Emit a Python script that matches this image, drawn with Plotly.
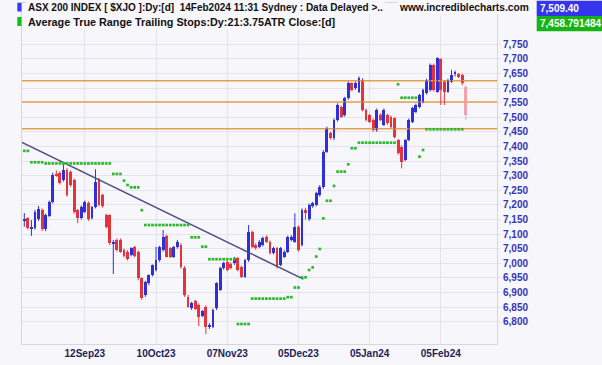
import plotly.graph_objects as go

# ---------------- data ----------------
opens = [7148, 7154, 7116, 7120, 7150, 7183, 7116, 7162, 7211, 7305,
         7310, 7285, 7320, 7314, 7285, 7182, 7154, 7177, 7208, 7154,
         7192, 7288, 7234, 7165, 7165, 7065, 7080, 7080, 7045, 7040,
         7028, 7055, 7040, 6948, 6891, 6931, 6960, 6977, 7011, 7045,
         7094, 7051, 7023, 7057, 7063, 6983, 6886, 6846, 6870, 6857,
         6820, 6851, 6783, 6783, 6846, 6909, 6983, 7005, 6998, 7000,
         7017, 6988, 6954, 7011, 7108, 7063, 7057, 7063, 7091, 7074,
         7034, 7051, 6994, 7023, 7040, 7080, 7074, 7126, 7063, 7183,
         7150, 7195, 7200, 7234, 7262, 7382, 7445, 7428, 7491, 7536,
         7508, 7565, 7616, 7599, 7588, 7628, 7525, 7508, 7491, 7456,
         7508, 7474, 7508, 7502, 7496, 7422, 7399, 7354, 7422, 7485,
         7519, 7536, 7553, 7582, 7593, 7679, 7588, 7698, 7622, 7588,
         7622, 7650, 7647, 7645, 7605]
highs = [7172, 7158, 7148, 7183, 7196, 7188, 7170, 7215, 7310, 7318,
         7315, 7346, 7326, 7318, 7290, 7186, 7198, 7215, 7212, 7196,
         7322, 7292, 7238, 7170, 7168, 7080, 7085, 7085, 7050, 7045,
         7055, 7060, 7044, 6952, 6940, 6962, 6996, 7057, 7060, 7114,
         7098, 7055, 7060, 7080, 7068, 6990, 6892, 6868, 6875, 6862,
         6840, 6856, 6795, 6845, 6935, 6988, 7005, 7010, 7003, 7022,
         7022, 6992, 7015, 7131, 7112, 7068, 7080, 7092, 7096, 7078,
         7056, 7056, 7056, 7045, 7095, 7096, 7171, 7130, 7188, 7190,
         7205, 7210, 7245, 7268, 7388, 7468, 7450, 7496, 7548, 7540,
         7570, 7622, 7620, 7622, 7640, 7634, 7530, 7512, 7496, 7530,
         7514, 7530, 7512, 7506, 7500, 7426, 7404, 7426, 7496, 7536,
         7547, 7580, 7598, 7632, 7684, 7684, 7706, 7702, 7626, 7632,
         7662, 7660, 7652, 7650, 7610]
lows = [7125, 7115, 7094, 7115, 7145, 7110, 7110, 7158, 7205, 7296,
        7270, 7280, 7228, 7262, 7170, 7137, 7150, 7172, 7145, 7150,
        7188, 7195, 7190, 7120, 7062, 6963, 7040, 7036, 7020, 7010,
        7024, 7020, 6942, 6875, 6885, 6925, 6955, 6972, 7005, 7040,
        7020, 7018, 7018, 7050, 6982, 6885, 6848, 6840, 6840, 6785,
        6815, 6758, 6775, 6778, 6840, 6905, 6978, 6972, 6980, 6995,
        6972, 6950, 6950, 7005, 7052, 7046, 7052, 7058, 7070, 7030,
        7030, 6982, 6990, 7018, 7035, 7075, 7070, 7040, 7058, 7150,
        7145, 7190, 7195, 7228, 7255, 7378, 7424, 7422, 7485, 7498,
        7502, 7560, 7588, 7594, 7583, 7520, 7486, 7480, 7450, 7450,
        7486, 7470, 7474, 7463, 7428, 7372, 7325, 7350, 7418, 7480,
        7514, 7531, 7548, 7578, 7588, 7588, 7584, 7542, 7542, 7584,
        7618, 7640, 7634, 7610, 7491]
closes = [7153, 7120, 7125, 7177, 7185, 7116, 7165, 7211, 7302, 7300,
          7276, 7320, 7234, 7268, 7177, 7154, 7194, 7211, 7150, 7192,
          7280, 7200, 7196, 7125, 7068, 7074, 7046, 7040, 7025, 7015,
          7051, 7025, 6948, 6880, 6937, 6960, 6994, 7011, 7057, 7091,
          7023, 7023, 7057, 7074, 6988, 6890, 6852, 6863, 6845, 6817,
          6835, 6783, 6787, 6840, 6931, 6983, 7000, 6977, 6985, 7017,
          6977, 6954, 7011, 7108, 7057, 7051, 7074, 7086, 7074, 7034,
          7051, 6988, 7051, 7040, 7091, 7091, 7126, 7046, 7183, 7171,
          7200, 7205, 7240, 7262, 7382, 7462, 7428, 7491, 7542, 7502,
          7565, 7616, 7593, 7616, 7633, 7525, 7491, 7485, 7456, 7525,
          7491, 7525, 7479, 7468, 7433, 7377, 7348, 7422, 7491, 7531,
          7542, 7576, 7593, 7628, 7679, 7593, 7702, 7593, 7588, 7628,
          7645, 7652, 7639, 7616, 7509.40]

# ATR trailing stop
atr_stop = ([7385] * 2 + [7346] * 4 + [7342] * 19 + [7306] * 3 + [7283, 7268]
            + [7260] * 3 + [7182] + [7131] * 13 + [7089] * 3 + [7057] * 2
            + [7014] * 8 + [6792] * 4 + [6879] * 10 + [6884] * 2 + [6917] * 2
            + [6952] * 2 + [6977, 6986, 7023, 7049, 7154, 7214, 7214, 7265]
            + [7314] * 3 + [7339] + [7394] * 2 + [7413] * 11 + [7613]
            + [7567] * 5 + [7365, 7388] + [7459] * 11)

resistance_levels = [7625, 7552, 7461]
trend_x = [-0.65, 78.4]
trend_y = [7414, 6946]

tick_idx = [17, 37, 57, 77, 97, 117]
tick_text = ["12Sep23", "10Oct23", "07Nov23", "05Dec23", "05Jan24", "05Feb24"]
y_ticks = list(range(6800, 7751, 50))

last_price = "7,509.40"
last_stop = "7,458.791484"

# ---------------- styling ----------------
BG = "#F7F7FB"
GRID = "#E3E3EC"
BLUE = "#3030D8"
RED = "#E6333A"
PINK = "#F2A3AE"
GREEN = "#2DB82D"
FONT = "Liberation Sans"

n = len(closes)
idx = list(range(n))
kinds = []
for i in idx:
    if i == n - 1:
        kinds.append("pink")
    elif closes[i] >= opens[i]:
        kinds.append("blue")
    else:
        kinds.append("red")
color_of = {"blue": BLUE, "red": RED, "pink": PINK}

x_lo, x_hi = -0.646, 132.78

fig = go.Figure()

# bodies (bar layer sits below scatter layer)
fig.add_trace(go.Bar(
    x=idx,
    base=[min(o, c) for o, c in zip(opens, closes)],
    y=[max(abs(c - o), 3) for o, c in zip(opens, closes)],
    width=0.8,
    marker=dict(color=[color_of[k] for k in kinds], line=dict(width=0)),
    showlegend=False))

# resistance lines
for lv in resistance_levels:
    fig.add_trace(go.Scatter(x=[x_lo, x_hi], y=[lv, lv], mode="lines",
                             line=dict(color="#E3A14A", width=1.5),
                             hoverinfo="skip", showlegend=False))

# wicks
for k in ["blue", "red", "pink"]:
    wx, wy = [], []
    for i in idx:
        if kinds[i] == k:
            wx += [i, i, None]
            wy += [lows[i], highs[i], None]
    fig.add_trace(go.Scatter(x=wx, y=wy, mode="lines",
                             line=dict(color=color_of[k], width=1),
                             hoverinfo="skip", showlegend=False))

# trend line
fig.add_trace(go.Scatter(x=trend_x, y=trend_y, mode="lines",
                         line=dict(color="#4E4E82", width=1.5),
                         hoverinfo="skip", showlegend=False))

# ATR stops
fig.add_trace(go.Scatter(x=idx, y=atr_stop, mode="markers",
                         marker=dict(color=GREEN, size=2.7, symbol="square",
                                     line=dict(width=0)),
                         showlegend=False))

# geometry helpers (plot area: x 22..497, y 3..344 px)
L, R, T, B = 22, 105, 3, 21
W, H = 602, 365
pw, ph = W - L - R, H - T - B


def px(xp):
    return (xp - L) / pw


def py(yp):
    return (H - B - yp) / ph


# legend swatches
fig.add_shape(type="rect", xref="paper", yref="paper",
              x0=px(17.3), x1=px(21.5), y0=py(11.5), y1=py(2.7),
              fillcolor="#3A3AF0", line=dict(width=0))
fig.add_shape(type="rect", xref="paper", yref="paper",
              x0=px(17.3), x1=px(21.5), y0=py(26), y1=py(17),
              fillcolor="#12C012", line=dict(width=0))

fig.add_annotation(xref="paper", yref="paper", x=px(26), y=py(7.8),
                   xanchor="left", yanchor="middle", showarrow=False,
                   text="ASX 200 INDEX [ $XJO ]:Dy:[d]  14Feb2024 11:31 Sydney : Data Delayed >..",
                   font=dict(family=FONT, size=10, color="#111111", weight="bold"),
                   bgcolor=BG, borderpad=1)
fig.add_annotation(xref="paper", yref="paper", x=px(26), y=py(22),
                   xanchor="left", yanchor="middle", showarrow=False,
                   text="Average True Range Trailing Stops:Dy:21:3.75ATR Close:[d]",
                   font=dict(family=FONT, size=10.8, color="#111111", weight="bold"),
                   bgcolor=BG, borderpad=1)
fig.add_annotation(xref="paper", yref="paper", x=px(531), y=py(7.5),
                   xanchor="right", yanchor="middle", showarrow=False,
                   text="www.incrediblecharts.com",
                   font=dict(family=FONT, size=10.2, color="#111111", weight="bold"),
                   bgcolor=BG, borderpad=1)

# value boxes
fig.add_shape(type="rect", xref="paper", yref="paper",
              x0=px(536.7), x1=px(602), y0=py(16), y1=py(0.7),
              fillcolor="#3535EE", line=dict(width=0))
fig.add_shape(type="rect", xref="paper", yref="paper",
              x0=px(536.7), x1=px(602), y0=py(31.3), y1=py(16),
              fillcolor="#14B414", line=dict(width=0))
fig.add_annotation(xref="paper", yref="paper", x=px(538), y=py(8.5),
                   xanchor="left", yanchor="middle", showarrow=False,
                   text=last_price,
                   font=dict(family=FONT, size=10, color="white", weight="bold"))
fig.add_annotation(xref="paper", yref="paper", x=px(538), y=py(23.7),
                   xanchor="left", yanchor="middle", showarrow=False,
                   text=last_stop,
                   font=dict(family=FONT, size=10, color="white", weight="bold"))

fig.update_layout(
    width=W, height=H,
    margin=dict(l=L, r=R, t=T, b=B),
    paper_bgcolor=BG, plot_bgcolor=BG,
    bargap=0, showlegend=False, hovermode=False,
    xaxis=dict(range=[x_lo, x_hi], tickvals=tick_idx, ticktext=tick_text,
               showgrid=True, gridcolor=GRID, gridwidth=1, zeroline=False,
               showline=True, linecolor="#D6D6E0", mirror=True,
               ticks="", tickfont=dict(family=FONT, size=10, color="#1E1E5A",
                                       weight="bold")),
    yaxis=dict(range=[6723.6, 7891.4], side="right", tickvals=y_ticks,
               tickformat=",d", showgrid=True, gridcolor=GRID, gridwidth=1,
               zeroline=False, showline=True, linecolor="#D6D6E0", mirror=True,
               ticks="outside", ticklen=3, tickcolor=GRID,
               tickfont=dict(family=FONT, size=10, color="#3434B8", weight="bold")),
)

fig.write_html("out.html", config={"displayModeBar": False},
               post_script="document.body.style.margin='0px';")
